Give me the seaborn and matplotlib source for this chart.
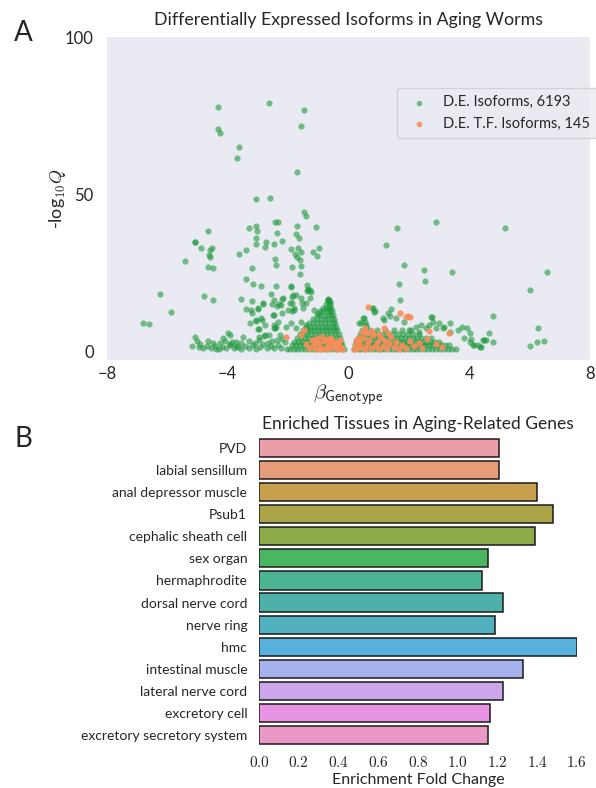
import numpy as np
import pandas as pd
import matplotlib
matplotlib.use('Agg')
import matplotlib.pyplot as plt
import seaborn as sns

# ---- panel A: volcano plot points (beta, -log10 q) ----
de_sparse_left = [
    (-4.31, 77.6), (-2.65, 79.1), (-1.46, 76.7), (-1.59, 71.7), (-4.31, 70.7), (-4.26, 69.4),
    (-3.63, 64.9), (-3.69, 61.6), (-1.69, 57.1), (-3.05, 48.3), (-2.61, 48.8), (-1.49, 44.4),
    (-1.42, 42.9), (-2.45, 41.1), (-2.34, 41.1), (-3.08, 39.8), (-3.31, 39.2), (-1.71, 39.8),
    (-1.07, 39.6), (-4.66, 38.2), (-3.02, 38.1), (-2.38, 37.5), (-1.73, 37.3), (-3.08, 36.1),
    (-1.63, 36.1), (-5.10, 34.6), (-5.10, 34.7), (-2.74, 34.6), (-2.21, 34.9), (-3.08, 34.0),
    (-2.46, 34.0), (-2.77, 33.0), (-4.87, 32.9), (-4.53, 32.8), (-4.59, 32.3), (-3.39, 32.2),
    (-1.91, 32.4), (-1.67, 32.9), (-1.59, 31.6), (-0.97, 32.8), (-1.17, 31.4), (-3.63, 31.0),
    (-1.77, 30.8), (-4.61, 30.6), (-4.60, 29.9), (-1.71, 30.0), (-1.05, 30.2), (-5.40, 28.8),
    (-2.42, 29.2), (-1.60, 29.1), (-2.40, 27.5), (-1.56, 27.0), (-1.88, 26.8), (-4.66, 26.9),
    (-4.50, 26.4), (-3.19, 26.3), (-1.62, 24.5), (-3.39, 22.9), (-3.15, 21.5), (-2.90, 20.6),
    (-2.40, 20.7), (-1.89, 20.8), (-1.38, 21.1), (-1.33, 19.6), (-1.36, 19.2), (-1.28, 19.4),
    (-1.25, 18.9), (-2.57, 18.2), (-6.23, 18.2), (-4.79, 17.5), (-1.75, 17.8), (-1.88, 17.3),
    (-4.48, 16.2), (-3.57, 16.6), (-3.21, 16.0), (-2.46, 16.3), (-2.21, 16.7), (-2.84, 15.0),
    (-2.55, 14.9), (-2.36, 14.4), (-2.29, 15.1), (-1.95, 15.2), (-1.88, 15.3), (-1.54, 15.3),
    (-1.41, 15.4), (-3.40, 13.4), (-2.99, 13.5), (-3.20, 12.2), (-5.87, 12.5), (-2.21, 12.0),
    (-2.46, 11.5), (-2.01, 13.2), (-1.88, 12.9), (-1.80, 13.8), (-2.88, 9.8), (-3.05, 9.6),
    (-3.25, 9.0), (-2.76, 8.3), (-2.46, 8.4), (-6.81, 8.8), (-6.61, 8.7), (-2.99, 7.1),
    (-2.95, 7.1), (-2.46, 7.4), (-3.98, 5.8), (-3.94, 5.1), (-2.80, 4.9), (-2.62, 5.1),
    (-2.26, 5.1), (-5.07, 4.4), (-5.03, 3.2), (-4.93, 2.3), (-4.64, 3.2), (-4.50, 2.6),
    (-4.17, 4.1), (-4.08, 3.3), (-3.50, 4.6), (-3.31, 3.2), (-3.73, 3.0), (-3.73, 1.7),
    (-3.93, 2.3), (-0.68, 16.6), (-0.61, 15.7), (-0.63, 13.3), (-2.18, 16.8), (-1.90, 20.5),
    (-1.84, 17.8), (-2.23, 14.6), (-1.79, 13.1), (-1.57, 16.8), (-1.35, 19.4), (-1.29, 16.8),
    (-1.51, 13.6), (-1.13, 13.1), (-1.02, 12.0), (-0.69, 16.2), (-3.06, 9.9), (-2.89, 10.4),
    (-3.22, 13.1), (-3.00, 13.6), (-2.84, 15.2), (-2.51, 11.5), (-2.40, 7.7), (-2.45, 7.2),
    (-2.34, 9.3), (-2.78, 5.1), (-2.95, 4.6), (-2.06, 7.7), (-1.90, 8.8), (-1.73, 7.2),
    (-1.57, 9.3), (-1.40, 8.3),
]

de_baseline_left = [
    (-4.95, 1.2), (-4.82, 0.8), (-4.70, 1.5), (-4.55, 0.9), (-4.42, 1.6), (-4.30, 0.7),
    (-4.18, 1.3), (-4.05, 0.9), (-3.92, 1.8), (-3.80, 0.8), (-3.66, 1.2), (-3.55, 0.6),
    (-3.42, 1.5), (-3.30, 0.9), (-3.18, 1.9), (-3.05, 0.7), (-2.93, 1.3), (-2.82, 2.2),
    (-2.70, 0.8), (-2.58, 1.6), (-2.46, 0.9), (-2.34, 2.0), (-2.22, 1.1), (-2.12, 2.8),
    (-2.05, 0.7), (-2.55, 3.1), (-2.38, 3.6), (-3.10, 2.6), (-3.55, 2.4), (-4.25, 2.7),
    (-2.68, 2.6), (-2.20, 3.9), (-5.20, 1.5), (-4.40, 0.5), (-3.85, 2.9), (-2.98, 3.4),
]

de_dense_left = [
    (-1.95, 0.6), (-1.82, 0.6), (-1.69, 0.6), (-1.56, 0.6), (-1.43, 0.6), (-1.30, 0.6),
    (-1.17, 0.6), (-1.04, 0.6), (-0.91, 0.6), (-0.78, 0.6), (-0.65, 0.6), (-0.52, 0.6),
    (-0.39, 0.6), (-0.26, 0.6), (-0.16, 0.6),
    (-1.88, 1.8), (-1.74, 1.8), (-1.61, 1.8), (-1.48, 1.8), (-1.35, 1.8), (-1.22, 1.8),
    (-1.09, 1.8), (-0.96, 1.8), (-0.83, 1.8), (-0.70, 1.8), (-0.57, 1.8), (-0.44, 1.8),
    (-0.31, 1.8), (-0.21, 1.8),
    (-1.79, 3.0), (-1.66, 3.0), (-1.53, 3.0), (-1.40, 3.0), (-1.27, 3.0), (-1.14, 3.0),
    (-1.01, 3.0), (-0.88, 3.0), (-0.75, 3.0), (-0.62, 3.0), (-0.49, 3.0), (-0.36, 3.0),
    (-0.25, 3.0),
    (-1.71, 4.2), (-1.58, 4.2), (-1.45, 4.2), (-1.32, 4.2), (-1.19, 4.2), (-1.06, 4.2),
    (-0.93, 4.2), (-0.80, 4.2), (-0.67, 4.2), (-0.54, 4.2), (-0.41, 4.2), (-0.29, 4.2),
    (-1.62, 5.4), (-1.49, 5.4), (-1.36, 5.4), (-1.23, 5.4), (-1.10, 5.4), (-0.97, 5.4),
    (-0.84, 5.4), (-0.71, 5.4), (-0.58, 5.4), (-0.45, 5.4), (-0.33, 5.4),
    (-1.52, 6.6), (-1.39, 6.6), (-1.26, 6.6), (-1.13, 6.6), (-1.00, 6.6), (-0.87, 6.6),
    (-0.74, 6.6), (-0.61, 6.6), (-0.48, 6.6), (-0.37, 6.6),
    (-1.41, 7.8), (-1.28, 7.8), (-1.15, 7.8), (-1.02, 7.8), (-0.89, 7.8), (-0.76, 7.8),
    (-0.63, 7.8), (-0.50, 7.8), (-0.41, 7.8),
    (-1.30, 9.0), (-1.17, 9.0), (-1.04, 9.0), (-0.91, 9.0), (-0.78, 9.0), (-0.65, 9.0),
    (-0.53, 9.0), (-0.44, 9.0),
    (-1.18, 10.2), (-1.05, 10.2), (-0.92, 10.2), (-0.79, 10.2), (-0.67, 10.2), (-0.56, 10.2),
    (-0.47, 10.2),
    (-1.06, 11.4), (-0.93, 11.4), (-0.81, 11.4), (-0.69, 11.4), (-0.58, 11.4), (-0.50, 11.4),
    (-0.95, 12.6), (-0.83, 12.6), (-0.72, 12.6), (-0.62, 12.6), (-0.54, 12.6),
    (-0.84, 13.8), (-0.73, 13.8), (-0.64, 13.8), (-0.57, 13.8),
    (-0.74, 15.0), (-0.66, 15.0), (-0.60, 15.0),
    (-0.68, 16.2), (-0.63, 16.2),
]

de_sparse_right = [
    (1.59, 39.3), (2.89, 41.0), (5.19, 39.3), (1.23, 33.8), (1.84, 27.4), (2.51, 25.7),
    (3.42, 25.1), (6.56, 25.1), (2.53, 22.3), (1.67, 21.3), (6.02, 19.3), (1.72, 16.3),
    (4.78, 11.1), (6.27, 7.4), (6.48, 3.2), (6.23, 2.8), (6.01, 1.6), (4.66, 5.8),
    (4.77, 3.0), (4.56, 3.6), (4.47, 3.4), (3.94, 7.3), (3.75, 7.8), (3.63, 6.7),
    (3.16, 7.5), (2.77, 10.7), (1.41, 13.3), (1.30, 12.0), (1.36, 11.2), (0.87, 12.7),
    (0.78, 13.8), (1.14, 10.5), (1.18, 9.9), (0.50, 10.4), (0.42, 9.0), (0.59, 8.3),
    (4.01, 5.6), (4.06, 3.7), (4.17, 1.9), (4.34, 1.4), (0.81, 13.6), (0.86, 12.5),
    (1.58, 10.4), (1.85, 9.3), (2.74, 10.9), (2.79, 9.3), (2.68, 8.3), (3.01, 8.8),
    (3.35, 8.8), (4.50, 3.5), (4.39, 1.4), (4.28, 1.9), (4.12, 1.9), (4.01, 3.0),
    (3.84, 4.0), (0.47, 10.4), (0.53, 9.3), (0.36, 8.8), (0.59, 7.7), (2.24, 7.7),
    (2.41, 8.3), (2.57, 7.2), (2.07, 6.7), (2.90, 7.2), (3.12, 7.2), (3.35, 6.1),
    (2.35, 6.1),
]

de_dense_right = [
    (0.17, 0.6), (0.30, 0.6), (0.43, 0.6), (0.56, 0.6), (0.69, 0.6), (0.82, 0.6),
    (0.95, 0.6), (1.08, 0.6), (1.21, 0.6), (1.34, 0.6), (1.47, 0.6), (1.60, 0.6),
    (1.73, 0.6), (1.86, 0.6), (1.99, 0.6), (2.12, 0.6), (2.25, 0.6), (2.38, 0.6),
    (2.51, 0.6), (2.64, 0.6), (2.77, 0.6), (2.90, 0.6), (3.03, 0.6), (3.16, 0.6),
    (3.29, 0.6), (3.42, 0.6), (3.55, 0.6),
    (0.21, 1.8), (0.34, 1.8), (0.47, 1.8), (0.60, 1.8), (0.73, 1.8), (0.86, 1.8),
    (0.99, 1.8), (1.12, 1.8), (1.25, 1.8), (1.38, 1.8), (1.51, 1.8), (1.64, 1.8),
    (1.77, 1.8), (1.90, 1.8), (2.03, 1.8), (2.16, 1.8), (2.29, 1.8), (2.42, 1.8),
    (2.55, 1.8), (2.68, 1.8), (2.81, 1.8), (2.94, 1.8), (3.07, 1.8), (3.20, 1.8),
    (3.33, 1.8),
    (0.26, 3.0), (0.39, 3.0), (0.52, 3.0), (0.65, 3.0), (0.78, 3.0), (0.91, 3.0),
    (1.04, 3.0), (1.17, 3.0), (1.30, 3.0), (1.43, 3.0), (1.56, 3.0), (1.69, 3.0),
    (1.82, 3.0), (1.95, 3.0), (2.08, 3.0), (2.21, 3.0), (2.34, 3.0), (2.47, 3.0),
    (2.60, 3.0), (2.73, 3.0), (2.86, 3.0), (3.00, 3.0),
    (0.31, 4.2), (0.44, 4.2), (0.57, 4.2), (0.70, 4.2), (0.83, 4.2), (0.96, 4.2),
    (1.09, 4.2), (1.22, 4.2), (1.35, 4.2), (1.48, 4.2), (1.61, 4.2), (1.74, 4.2),
    (1.87, 4.2), (2.00, 4.2), (2.13, 4.2), (2.26, 4.2), (2.40, 4.2), (2.56, 4.2),
    (2.72, 4.2),
    (0.37, 5.4), (0.52, 5.4), (0.68, 5.4), (0.84, 5.4), (1.00, 5.4), (1.16, 5.4),
    (1.32, 5.4), (1.48, 5.4), (1.64, 5.4), (1.80, 5.4), (1.96, 5.4), (2.14, 5.4),
    (2.32, 5.4),
    (0.46, 6.6), (0.70, 6.6), (0.95, 6.6), (1.22, 6.6), (1.50, 6.6), (1.76, 6.6),
    (2.02, 6.6),
]

tf_left = [
    (-1.30, 0.8), (-1.18, 1.6), (-1.08, 0.6), (-0.98, 2.4), (-0.90, 1.0), (-0.82, 3.1),
    (-0.75, 0.7), (-0.68, 1.9), (-0.60, 0.9), (-0.52, 2.7), (-0.45, 1.2), (-0.38, 0.6),
    (-0.30, 1.6), (-0.24, 0.8), (-0.20, 0.5), (-1.22, 3.4), (-1.05, 4.0), (-0.88, 4.6),
    (-0.70, 3.8), (-0.58, 4.3), (-0.40, 3.0), (-0.34, 2.2), (-1.46, 6.7), (-2.06, 4.6),
    (-1.56, 5.1), (-1.40, 2.2), (-1.12, 2.8), (-0.95, 0.5), (-0.65, 2.9), (-0.28, 3.6),
]

tf_right = [
    (0.18, 0.6), (0.24, 1.8), (0.30, 0.9), (0.36, 2.9), (0.42, 1.2), (0.48, 4.0),
    (0.55, 0.7), (0.62, 2.2), (0.68, 3.4), (0.75, 1.0), (0.82, 5.0), (0.88, 1.7),
    (0.95, 2.9), (1.02, 0.6), (1.08, 4.2), (1.15, 1.5), (1.22, 3.1), (1.28, 0.8),
    (1.35, 2.4), (1.42, 4.6), (1.50, 1.2), (1.58, 3.0), (1.66, 0.7), (1.78, 2.0),
    (1.92, 1.0), (2.05, 3.3), (2.18, 1.5), (2.32, 2.6), (2.45, 0.9), (2.60, 3.8),
    (0.64, 14.1), (1.69, 12.1), (1.97, 11.2), (2.04, 10.7), (1.91, 10.7), (2.66, 6.4),
    (3.32, 5.8), (1.19, 7.4), (0.53, 7.2), (0.36, 4.0), (0.60, 5.6), (0.78, 6.3),
    (1.00, 5.4), (0.26, 3.6), (0.45, 6.1), (1.30, 5.8), (2.90, 2.1), (3.10, 1.2),
]

# ---- panel B: tissue enrichment ----
tissues = ['PVD', 'labial sensillum', 'anal depressor muscle', 'Psub1',
           'cephalic sheath cell', 'sex organ', 'hermaphrodite', 'dorsal nerve cord',
           'nerve ring', 'hmc', 'intestinal muscle', 'lateral nerve cord',
           'excretory cell', 'excretory secretory system']
fold_change = [1.21, 1.21, 1.40, 1.48, 1.39, 1.15, 1.12, 1.23,
               1.19, 1.60, 1.33, 1.23, 1.16, 1.15]
fc_ticks = [0.0, 0.2, 0.4, 0.6, 0.8, 1.0, 1.2, 1.4, 1.6]

de_df = pd.DataFrame(de_sparse_left + de_baseline_left + de_dense_left
                     + de_sparse_right + de_dense_right, columns=['beta', 'q'])
tf_df = pd.DataFrame(tf_left + tf_right, columns=['beta', 'q'])
enr_df = pd.DataFrame({'tissue': tissues, 'fold': fold_change})

sns.set_style('dark')
plt.rcParams['font.family'] = ['Lato', 'DejaVu Sans']
plt.rcParams['mathtext.fontset'] = 'cm'
plt.rcParams['text.color'] = '.15'

fig = plt.figure(figsize=(5.96, 7.88), dpi=100)

# A: volcano
ax1 = fig.add_axes([0.1795, 0.543, 0.8105, 0.410])
sns.scatterplot(data=de_df, x='beta', y='q', color='#1f9a3f', alpha=0.6, s=20,
                linewidth=0, ax=ax1, label='D.E. Isoforms, 6193')
sns.scatterplot(data=tf_df, x='beta', y='q', color='#fc8d59', alpha=0.9, s=20,
                linewidth=0, ax=ax1, label='D.E. T.F. Isoforms, 145')
ax1.set_xlim(-8, 8)
ax1.set_ylim(-2.9, 100)
ax1.set_xticks([-8, -4, 0, 4, 8])
ax1.set_yticks([0, 50, 100])
ax1.tick_params(labelsize=12, colors='.15')
ax1.tick_params(axis='x', pad=1)
ax1.tick_params(axis='y', pad=6)
ax1.set_title('Differentially Expressed Isoforms in Aging Worms', fontsize=12.8, pad=9)
ax1.set_xlabel(r'$\beta_{\mathsf{Genotype}}$', fontsize=15, labelpad=0)
ax1.set_ylabel(r'-log$_{\mathsf{10}}Q$', fontsize=13, labelpad=-2)
ax1.legend(loc='upper left', bbox_to_anchor=(0.60, 0.842), borderaxespad=0,
           frameon=True, fontsize=10.5, markerscale=0.9, borderpad=0.5,
           handletextpad=0.7)
for sp in ax1.spines.values():
    sp.set_visible(False)

# B: enrichment bars
ax2 = fig.add_axes([0.4346, 0.0533, 0.5334, 0.3921])
ax2.set_facecolor('white')
bar_colors = sns.husl_palette(len(tissues), l=0.72, s=0.9)
sns.barplot(data=enr_df, x='fold', y='tissue', hue='tissue', palette=bar_colors,
            legend=False, edgecolor='.1', linewidth=1.1, width=0.82, ax=ax2)
ax2.set_xlim(0, 1.6)
ax2.set_xticks(fc_ticks)
ax2.set_xticklabels([r'$%.1f$' % t for t in fc_ticks], fontsize=11)
ax2.tick_params(axis='y', labelsize=10, pad=5)
ax2.tick_params(axis='x', pad=3)
ax2.set_ylabel('')
ax2.set_xlabel('Enrichment Fold Change', fontsize=11.5, labelpad=2)
ax2.set_title('Enriched Tissues in Aging-Related Genes', fontsize=12.5, pad=6)
for sp in ax2.spines.values():
    sp.set_visible(False)

fig.text(0.024, 0.975, 'A', fontsize=20, va='top', ha='left')
fig.text(0.024, 0.460, 'B', fontsize=20, va='top', ha='left')

fig.savefig('out.png', dpi=100, facecolor='white')
